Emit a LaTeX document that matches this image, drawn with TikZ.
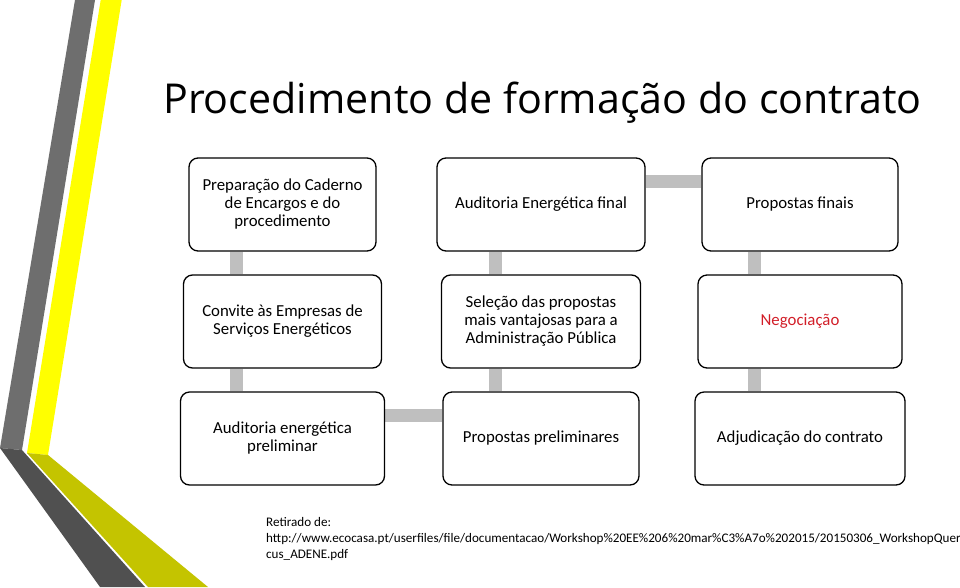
\documentclass[tikz,border=0pt]{standalone}
\usepackage{fontspec}
\setmainfont{Carlito}
\newfontfamily\titlefont{Open Sans}
\usetikzlibrary{calc,backgrounds}
\definecolor{conn}{RGB}{191,191,191}
\definecolor{stripegray}{RGB}{110,110,110}
\definecolor{stripedark}{RGB}{80,80,80}
\definecolor{stripeyellow}{RGB}{255,255,0}
\definecolor{stripeolive}{RGB}{196,196,0}
\definecolor{negred}{RGB}{210,30,40}
\begin{document}
\begin{tikzpicture}[x=1pt,y=-1pt,
  box/.style={draw=black, line width=1.3pt, rounded corners=9pt, fill=white,
    align=center, minimum height=93pt, inner sep=2pt,
    font=\fontsize{16.8}{18}\selectfont},
  link/.style={draw=conn, line width=13pt}]
\useasboundingbox (0,0) rectangle (960,587);
% decorative stripes
\fill[stripegray] (75,0) -- (95,0) -- (22,450) -- (0,448) -- cycle;
\fill[stripedark] (0,448) -- (22,450) -- (145,587) -- (100,587) -- cycle;
\fill[stripeyellow] (100.7,0) -- (121.7,0) -- (48,455) -- (27,453) -- cycle;
\fill[stripeolive] (27,453) -- (48,455) -- (208,587) -- (148,587) -- cycle;
% title
\node[anchor=base west, inner sep=0, font=\titlefont\fontsize{41.2}{48}\selectfont] (title) at (163,113) {Procedimento de formação do contrato};
% boxes
\node[box, minimum width=187pt] (prep) at (282.5,204.5) {Preparação do Caderno\\de Encargos e do\\procedimento};
\node[box, minimum width=208pt] (audf) at (541,204.5) {Auditoria Energética final};
\node[box, minimum width=196pt] (propf) at (800,204.5) {Propostas finais};
\node[box, minimum width=198pt] (conv) at (282.5,321.5) {Convite às Empresas de\\Serviços Energéticos};
\node[box, minimum width=199pt] (sel) at (541,321.5) {Seleção das propostas\\mais vantajosas para a\\Administração Pública};
\node[box, minimum width=204pt, text=negred] (neg) at (800,321.5) {Negociação};
\node[box, minimum width=204pt] (audp) at (282.5,438.5) {Auditoria energética\\preliminar};
\node[box, minimum width=196pt] (propp) at (541,438.5) {Propostas preliminares};
\node[box, minimum width=210pt] (adj) at (800,438.5) {Adjudicação do contrato};
% source
\node[anchor=north west, align=left, inner sep=0, font=\fontsize{13.1}{16}\selectfont] (src) at (266,517)
  {Retirado de:\\http://www.ecocasa.pt/userfiles/file/documentacao/Workshop\%20EE\%206\%20mar\%C3\%A7o\%202015/20150306\_WorkshopQuer\\cus\_ADENE.pdf};
% connectors
\begin{scope}[on background layer]
\fill[white] (0,0) rectangle (960,587);
\path[link] ([xshift=-46pt]prep.south) -- ([xshift=-46pt]conv.north);
\path[link] ([xshift=-46pt]conv.south) -- ([xshift=-46pt]audp.north);
\path[link] ([yshift=23.5pt]audp.east) -- ([yshift=23.5pt]propp.west);
\path[link] ([xshift=-46pt]propp.north) -- ([xshift=-46pt]sel.south);
\path[link] ([xshift=-46pt]sel.north) -- ([xshift=-46pt]audf.south);
\path[link] ([yshift=23.5pt]audf.east) -- ([yshift=23.5pt]propf.west);
\path[link] ([xshift=-46pt]propf.south) -- ([xshift=-46pt]neg.north);
\path[link] ([xshift=-46pt]neg.south) -- ([xshift=-46pt]adj.north);
\end{scope}
\end{tikzpicture}
\end{document}
